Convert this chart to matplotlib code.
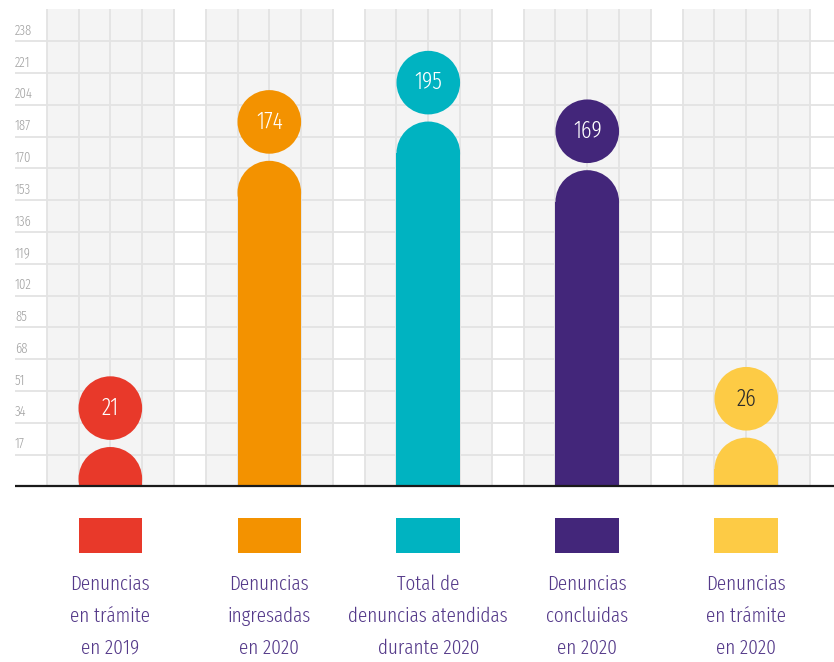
import matplotlib
matplotlib.use("Agg")
import matplotlib.pyplot as plt
from matplotlib.patches import Rectangle, Ellipse

plt.rcParams['font.family'] = ['Fira Sans Extra Condensed', 'DejaVu Sans']
plt.rcParams['font.weight'] = 300

# datos
categorias = ['Denuncias\nen trámite\nen 2019',
              'Denuncias\ningresadas\nen 2020',
              'Total de\ndenuncias atendidas\ndurante 2020',
              'Denuncias\nconcluidas\nen 2020',
              'Denuncias\nen trámite\nen 2020']
valores = [21, 174, 195, 169, 26]
colores = ['#E8392A', '#F39200', '#00B3C1', '#43267A', '#FDCB45']
color_etiqueta = ['white', 'white', 'white', 'white', '#2b2b2b']
marcas_y = [17, 34, 51, 68, 85, 102, 119, 136, 153, 170, 187, 204, 221, 238]

PASO = 17          # unidades de y por celda de la cuadricula
TOPE = 255

fig = plt.figure(figsize=(8.34, 6.62), dpi=100)
ax = fig.add_axes([0, 175.7 / 662, 1, 477 / 662])
ax.set_xlim(-1.47, 24.76)
ax.set_ylim(0, TOPE)
ax.axis('off')

# bloques grises con su cuadricula vertical
for i in range(len(valores)):
    x0 = 5 * i
    ax.add_patch(Rectangle((x0, 0), 4, TOPE, facecolor='#F4F4F4',
                           edgecolor='none', zorder=0))
    ax.vlines([x0 + k for k in range(5)], 0, TOPE, color='#E3E3E3',
              lw=1.3, zorder=1)

# lineas horizontales y etiquetas del eje
ax.hlines(marcas_y, -1, 24.76, color='#E3E3E3', lw=1.3, zorder=1)
for y in marcas_y:
    ax.text(-1, y + 1.8, str(y), ha='left', va='bottom', fontsize=10,
            color='#A3A3A3', zorder=2)

# barras redondeadas + circulo con el valor
for i, (v, c, lc) in enumerate(zip(valores, colores, color_etiqueta)):
    cx = 5 * i + 2
    alto = max(v - PASO, 0)
    ax.add_patch(Rectangle((cx - 1, 0), 2, alto, facecolor=c,
                           edgecolor='none', zorder=3))
    ax.add_patch(Ellipse((cx, v - PASO), 2, 2 * PASO, facecolor=c,
                         edgecolor='none', zorder=3))
    cy = v + PASO + 3.8
    ax.add_patch(Ellipse((cx, cy), 2, 2 * PASO, facecolor=c,
                         edgecolor='none', zorder=3))
    ax.text(cx, cy, str(v), ha='center', va='center', fontsize=17,
            color=lc, zorder=4)

ax.plot([-1, 24.76], [0, 0], color='#1a1a1a', lw=1.6, zorder=5,
        solid_capstyle='butt', clip_on=False)

# leyenda debajo del eje
for i, (cat, c) in enumerate(zip(categorias, colores)):
    cx = 5 * i + 2
    ax.add_patch(Rectangle((cx - 1, -35.5), 2, 18.5, facecolor=c,
                           edgecolor='none', clip_on=False))
    ax.text(cx, -69.5, cat, ha='center', va='center', fontsize=15,
            color='#553A8A', linespacing=1.8, clip_on=False)

fig.savefig('out.png', dpi=100)
